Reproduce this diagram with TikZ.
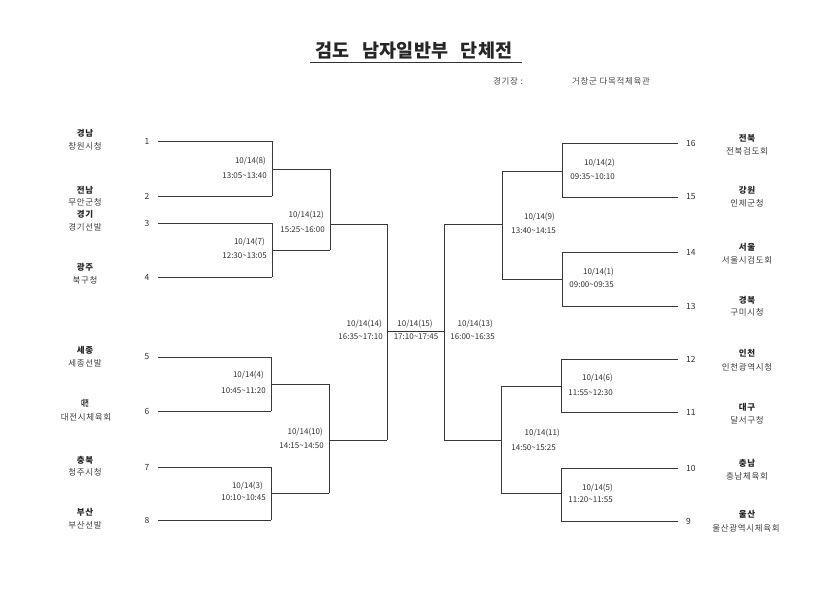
\documentclass[tikz,border=0pt]{standalone}
\usepackage{fontspec}
\setmainfont{Noto Sans CJK KR}
\newfontfamily\krs[LetterSpace=8]{Noto Sans CJK KR}
\newcommand{\tl}{\textasciitilde}
\begin{document}
\begin{tikzpicture}[x=1pt,y=-1pt,
  ln/.style={draw=black!78,line width=0.75pt},
  num/.style={inner sep=0pt,font=\fontsize{8.5}{9}\selectfont,text=black!80},
  region/.style={inner sep=0pt,font=\krs\bfseries\fontsize{8.5}{9}\selectfont,text=black!85},
  team/.style={inner sep=0pt,font=\krs\fontsize{8.5}{9}\selectfont,text=black!75},
  dat/.style={inner sep=0pt,anchor=east,font=\fontsize{8}{8}\selectfont,text=black!80},
  datc/.style={inner sep=0pt,font=\fontsize{8}{8}\selectfont,text=black!80}]
\useasboundingbox[fill=white] (0,0) rectangle (835,590);

% title
\node[inner sep=0pt,anchor=base,font=\bfseries\fontsize{18.5}{20}\selectfont,text=black!85] (title) at (414,57) {검도\hspace{0.7em}남자일반부\hspace{0.7em}단체전};
\coordinate (ulA) at (310,62);
\coordinate (ulB) at (522,62);
\draw[draw=black!80,line width=1pt] (ulA) -- (ulB);
\node[inner sep=0pt,anchor=west,font=\krs\fontsize{8.5}{9}\selectfont,text=black!70] (venueL) at (493,81) {경기장 :};
\node[inner sep=0pt,anchor=west,font=\krs\fontsize{8.5}{9}\selectfont,text=black!70] (venue) at (572,81) {거창군 다목적체육관};

% left player lines
\foreach \i/\y in {1/141,2/196,3/223,4/277,5/357,6/411,7/467,8/520}{
  \coordinate (pL\i) at (158,\y);
  \node[num] (nL\i) at (147,\y) {\i};
}
\coordinate (qL1) at (272,141); \coordinate (qL2) at (272,196);
\coordinate (qL3) at (272,223); \coordinate (qL4) at (272,277);
\coordinate (qL5) at (271,357); \coordinate (qL6) at (271,411);
\coordinate (qL7) at (271,467); \coordinate (qL8) at (271,520);
\foreach \i in {1,...,8}{\draw[ln] (pL\i) -- (qL\i);}
% first round left
\coordinate (m8) at (272,169);   \coordinate (m8e) at (330,169);
\coordinate (m7) at (272,250);   \coordinate (m7e) at (330,250);
\coordinate (m4) at (271,384);   \coordinate (m4e) at (329,384);
\coordinate (m3) at (271,493);   \coordinate (m3e) at (329,493);
\draw[ln] (qL1) -- (qL2); \draw[ln] (m8) -- (m8e);
\draw[ln] (qL3) -- (qL4); \draw[ln] (m7) -- (m7e);
\draw[ln] (qL5) -- (qL6); \draw[ln] (m4) -- (m4e);
\draw[ln] (qL7) -- (qL8); \draw[ln] (m3) -- (m3e);
% second round left
\coordinate (m12) at (330,224);  \coordinate (m12e) at (387,224);
\coordinate (m10) at (329,440);  \coordinate (m10e) at (387,440);
\draw[ln] (m8e) -- (m7e); \draw[ln] (m12) -- (m12e);
\draw[ln] (m4e) -- (m3e); \draw[ln] (m10) -- (m10e);
% semifinal left
\coordinate (m14) at (387,331);
\draw[ln] (m12e) -- (m10e);

% right player lines
\foreach \i/\y in {16/143,15/197,14/252,13/306,12/359,11/412,10/468,9/521}{
  \coordinate (pR\i) at (678,\y);
  \node[num,anchor=west] (nR\i) at (686,\y) {\i};
}
\coordinate (qR16) at (562,143); \coordinate (qR15) at (562,197);
\coordinate (qR14) at (562,252); \coordinate (qR13) at (562,306);
\coordinate (qR12) at (561,359); \coordinate (qR11) at (561,412);
\coordinate (qR10) at (561,468); \coordinate (qR9) at (561,521);
\foreach \i in {9,...,16}{\draw[ln] (pR\i) -- (qR\i);}
\coordinate (m2) at (562,171);  \coordinate (m2e) at (502,171);
\coordinate (m1) at (562,279);  \coordinate (m1e) at (502,279);
\coordinate (m6) at (561,386);  \coordinate (m6e) at (501,386);
\coordinate (m5) at (561,493);  \coordinate (m5e) at (501,493);
\draw[ln] (qR16) -- (qR15); \draw[ln] (m2) -- (m2e);
\draw[ln] (qR14) -- (qR13); \draw[ln] (m1) -- (m1e);
\draw[ln] (qR12) -- (qR11); \draw[ln] (m6) -- (m6e);
\draw[ln] (qR10) -- (qR9);  \draw[ln] (m5) -- (m5e);
\coordinate (m9) at (502,224);  \coordinate (m9e) at (444,224);
\coordinate (m11) at (501,440); \coordinate (m11e) at (444,440);
\draw[ln] (m2e) -- (m1e); \draw[ln] (m9) -- (m9e);
\draw[ln] (m6e) -- (m5e); \draw[ln] (m11) -- (m11e);
\coordinate (m13) at (444,331);
\draw[ln] (m9e) -- (m11e);
% final
\draw[ln] (m14) -- (m13);

% left teams
\node[region] (rL1) at (85,133) {경남};   \node[team] (tL1) at (85,146) {창원시청};
\node[region] (rL2) at (85,190) {전남};   \node[team] (tL2) at (85,202) {무안군청};
\node[region] (rL3) at (85,214) {경기};   \node[team] (tL3) at (85,227) {경기선발};
\node[region] (rL4) at (85,267) {광주};   \node[team] (tL4) at (85,280) {북구청};
\node[region] (rL5) at (85,350) {세종};   \node[team] (tL5) at (85,363) {세종선발};
\node[region] (rL6) at (85,403) {\scalebox{0.45}[1]{대전}}; \node[team] (tL6) at (86,417) {대전시체육회};
\node[region] (rL7) at (85,460) {충북};   \node[team] (tL7) at (85,472) {청주시청};
\node[region] (rL8) at (85,512) {부산};   \node[team] (tL8) at (85,525) {부산선발};
% right teams
\node[region] (rR16) at (747,138) {전북}; \node[team] (tR16) at (747,151) {전북검도회};
\node[region] (rR15) at (747,190) {강원}; \node[team] (tR15) at (747,203) {인제군청};
\node[region] (rR14) at (747,247) {서울}; \node[team] (tR14) at (747,260) {서울시검도회};
\node[region] (rR13) at (747,300) {경북}; \node[team] (tR13) at (747,312) {구미시청};
\node[region] (rR12) at (747,353) {인천}; \node[team] (tR12) at (747,367) {인천광역시청};
\node[region] (rR11) at (747,407) {대구}; \node[team] (tR11) at (747,420) {달서구청};
\node[region] (rR10) at (747,463) {충남}; \node[team] (tR10) at (747,476) {충남체육회};
\node[region] (rR9)  at (747,514) {울산}; \node[team] (tR9)  at (746,528) {울산광역시체육회};

% match labels left
\node[dat] (d8a) at (266,161) {10/14(8)};   \node[dat] (d8b) at (267,176) {13:05\tl13:40};
\node[dat] (d12a) at (324,215) {10/14(12)}; \node[dat] (d12b) at (325,230) {15:25\tl16:00};
\node[dat] (d7a) at (265,242) {10/14(7)};   \node[dat] (d7b) at (267,256) {12:30\tl13:05};
\node[dat] (d4a) at (264,375) {10/14(4)};   \node[dat] (d4b) at (266,391) {10:45\tl11:20};
\node[dat] (d10a) at (323,432) {10/14(10)}; \node[dat] (d10b) at (324,446) {14:15\tl14:50};
\node[dat] (d3a) at (263,486) {10/14(3)};   \node[dat] (d3b) at (266,498) {10:10\tl10:45};
% center
\node[dat] (d14a) at (382,324) {10/14(14)}; \node[dat] (d14b) at (383,337) {16:35\tl17:10};
\node[datc] (d15a) at (415,324) {10/14(15)}; \node[datc] (d15b) at (416,337) {17:10\tl17:45};
\node[dat] (d13a) at (493,324) {10/14(13)}; \node[dat] (d13b) at (495,337) {16:00\tl16:35};
% right
\node[dat] (d2a) at (615,163) {10/14(2)};   \node[dat] (d2b) at (615,177) {09:35\tl10:10};
\node[dat] (d9a) at (555,217) {10/14(9)};   \node[dat] (d9b) at (556,231) {13:40\tl14:15};
\node[dat] (d1a) at (614,272) {10/14(1)};   \node[dat] (d1b) at (614,285) {09:00\tl09:35};
\node[dat] (d6a) at (613,378) {10/14(6)};   \node[dat] (d6b) at (613,393) {11:55\tl12:30};
\node[dat] (d11a) at (560,433) {10/14(11)}; \node[dat] (d11b) at (556,448) {14:50\tl15:25};
\node[dat] (d5a) at (613,488) {10/14(5)};   \node[dat] (d5b) at (613,500) {11:20\tl11:55};
\end{tikzpicture}
\end{document}
